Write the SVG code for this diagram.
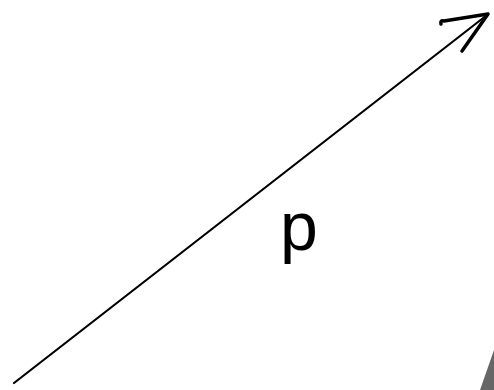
<svg xmlns="http://www.w3.org/2000/svg" width="494" height="390" viewBox="0 0 494 390">
<style>
.ln{fill:none;stroke:#000;stroke-width:2.2;stroke-linecap:round;stroke-linejoin:round}
.hd{fill:none;stroke:#000;stroke-width:3.5;stroke-linecap:round;stroke-linejoin:round}
.lbl{font-family:"Liberation Sans",Arial,sans-serif;font-size:68px;fill:#000}
</style>
<rect width="494" height="390" fill="#fff"/>
<g id="connectors">
<path class="ln" d="M14,383 L487,15"/>
<path class="hd" d="M441,24 Q440,20 444,21 L488,14 L462,51"/>
</g>
<g id="label-p">
<text class="lbl" x="280" y="250">p</text>
</g>
<polygon points="494,350 480,390 494,390" fill="#666"/>
</svg>
